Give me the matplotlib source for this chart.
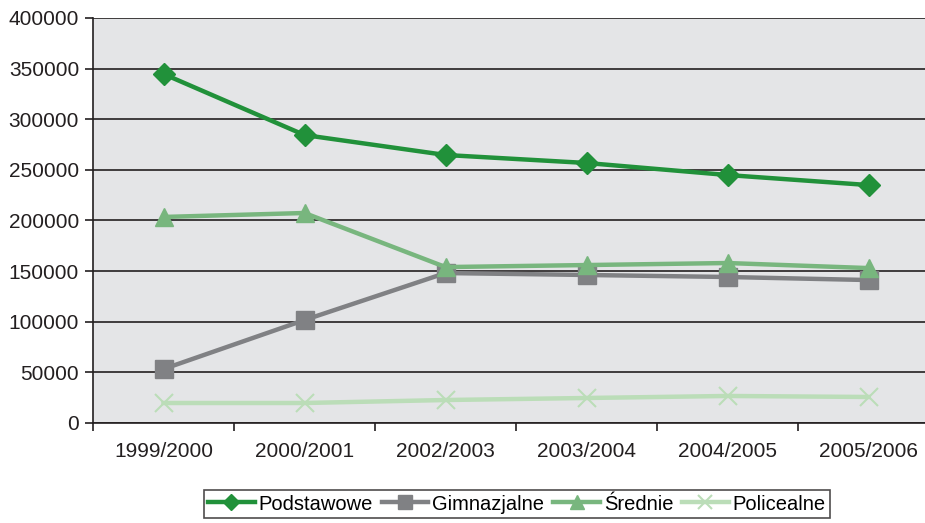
import matplotlib
matplotlib.use('Agg')
import matplotlib.pyplot as plt
import numpy as np

plt.rcParams['font.family'] = ['Liberation Sans', 'DejaVu Sans']

#---- data
years = ['1999/2000', '2000/2001', '2002/2003', '2003/2004', '2004/2005', '2005/2006']
podstawowe = [344700, 284400, 264700, 256800, 244900, 235000]
gimnazjalne = [53300, 101700, 148100, 146200, 144200, 141200]
srednie = [203500, 207400, 154000, 156000, 158000, 153000]
policealne = [19750, 19750, 22700, 24700, 26700, 25700]

W, H = 925, 523
fig = plt.figure(figsize=(W / 100, H / 100), dpi=100)
ax = fig.add_axes([93 / W, 1 - 423 / H, 1 - 93 / W, (423 - 18) / H])
ax.set_facecolor('#E4E5E7')

x = np.arange(len(years))
ax.plot(x, podstawowe, color='#21913A', lw=3.2, marker='D', ms=11, label='Podstawowe', zorder=5)
ax.plot(x, gimnazjalne, color='#808184', lw=3.2, marker='s', ms=13, label='Gimnazjalne', zorder=3)
ax.plot(x, srednie, color='#78B67E', lw=3.2, marker='^', ms=13, label='Średnie', zorder=4)
ax.plot(x, policealne, color='#BBDDB8', lw=3.2, marker='x', ms=13, mew=1.5, label='Policealne', zorder=3)

ax.set_yticks(np.arange(0, 400001, 50000))
ax.set_xticks(x)
ax.set_xticklabels(years)
ax.set_xticks(np.arange(-0.5, 6, 1), minor=True)
# limits after ticks, set_xticks would widen them
ax.set_ylim(0, 400000)
ax.set_xlim(-0.5, 5.4)
ax.tick_params(axis='x', which='major', length=0, pad=14, labelsize=15, colors='#231F20')
ax.tick_params(axis='x', which='minor', length=6, width=1.2, color='#231F20')
ax.tick_params(axis='y', length=6, width=1.2, labelsize=15, colors='#231F20', pad=4)
ax.grid(axis='y', color='#231F20', lw=1.2)
ax.set_axisbelow(True)
for s in ['top', 'right']:
    ax.spines[s].set_visible(False)
for s in ['left', 'bottom']:
    ax.spines[s].set_color('#231F20')
    ax.spines[s].set_linewidth(1.2)

leg = fig.legend(loc='center', bbox_to_anchor=(517 / W, 1 - 504 / H), ncol=4, fontsize=14.5,
                 frameon=True, fancybox=False, edgecolor='#231F20', handlelength=2.3,
                 markerscale=0.75, handletextpad=0.2, columnspacing=0.45, borderpad=0.2,
                 borderaxespad=0)
leg.get_frame().set_linewidth(1.2)

fig.savefig('out.png', dpi=100)
